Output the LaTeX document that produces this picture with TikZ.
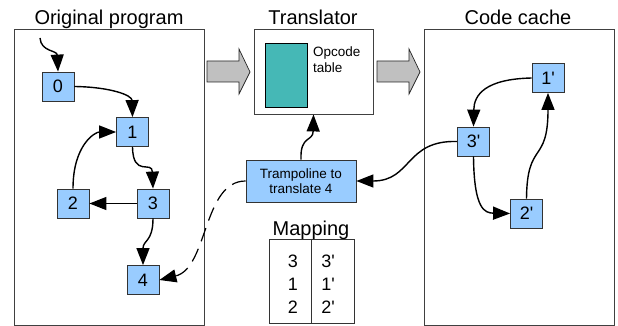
\documentclass[tikz,border=0pt]{standalone}
\usepackage{fontspec}
\setmainfont{Liberation Sans}
\usetikzlibrary{arrows.meta}
\definecolor{nodeblue}{HTML}{99CCFF}
\definecolor{teal2}{HTML}{45B8B6}
\definecolor{grayarrow}{HTML}{C0C0C0}
\definecolor{frame}{HTML}{404040}
\tikzset{
  frm/.style={draw=frame, line width=0.9pt, fill=white, inner sep=0pt},
  blk/.style={draw=black!80, line width=0.8pt, fill=nodeblue, minimum width=32pt, minimum height=29pt, inner sep=0pt, font=\fontsize{18}{20}\selectfont},
  ttl/.style={anchor=base, inner sep=0pt, font=\fontsize{20}{24}\selectfont},
  smalltxt/.style={inner sep=0pt, font=\fontsize{13.5}{15}\selectfont, align=center},
  conn/.style={draw=black, line width=1.4pt, -{Triangle[length=17pt,width=13pt]}},
  bigarrow/.style={draw=black!85, line width=0.7pt, fill=grayarrow},
}
\begin{document}
\begin{tikzpicture}[x=1pt,y=-1pt]
\useasboundingbox (0,0) rectangle (618,326);
% frames
\node[frm, minimum width=190pt, minimum height=296pt] (orig) at (109,177) {};
\node[frm, minimum width=119pt, minimum height=85pt] (trans) at (313.5,71.5) {};
\node[frm, minimum width=190pt, minimum height=296pt] (cache) at (519,177) {};
% titles
\node[ttl] (tOrig) at (109,25) {Original program};
\node[ttl] (tTrans) at (313,25) {Translator};
\node[ttl] (tCache) at (518,25) {Code cache};
\node[ttl] (tMap) at (311,235) {Mapping};
% opcode table
\node[draw=black, line width=0.8pt, fill=teal2, minimum width=42pt, minimum height=64pt, inner sep=0pt] (opc) at (286,75) {};
\node[inner sep=0pt, anchor=north west, align=left, font=\fontsize{13.5}{16}\selectfont] (opct) at (313,47) {Opcode\\table};
% gray arrows
\draw[bigarrow] (207,61) -- (239,61) -- (239,49) -- (250,72) -- (239,94) -- (239,82) -- (207,82) -- cycle;
\draw[bigarrow] (377,61) -- (409,61) -- (409,49) -- (420,72) -- (409,94) -- (409,82) -- (377,82) -- cycle;
% original program nodes
\node[blk] (n0) at (58,86.5) {0};
\node[blk] (n1) at (132.5,132) {1};
\node[blk] (n2) at (73,203.5) {2};
\node[blk] (n3) at (153,203.5) {3};
\node[blk] (n4) at (143,280) {4};
\coordinate (entry) at (40,38);
% code cache nodes
\node[blk] (c1) at (548,78) {1\textquotesingle};
\node[blk] (c3) at (473.5,141.5) {3\textquotesingle};
\node[blk] (c2) at (526.5,213.5) {2\textquotesingle};
% trampoline
\node[draw=black!80, line width=0.8pt, fill=nodeblue, minimum width=110pt, minimum height=42pt, smalltxt] (tramp) at (301,181) {Trampoline to\\translate 4};
% mapping table
\node[draw=black!80, line width=0.8pt, minimum width=85pt, minimum height=84pt, inner sep=0pt] (map) at (311.5,281) {};
\draw[black!80, line width=0.8pt] (map.north) -- (map.south);
\node[inner sep=0pt, anchor=base, font=\fontsize{18}{20}\selectfont] (m1a) at (293,267) {3};
\node[inner sep=0pt, anchor=base, font=\fontsize{18}{20}\selectfont] (m2a) at (293,290) {1};
\node[inner sep=0pt, anchor=base, font=\fontsize{18}{20}\selectfont] (m3a) at (293,313) {2};
\node[inner sep=0pt, anchor=base, font=\fontsize{18}{20}\selectfont] (m1b) at (328,267) {3\textquotesingle};
\node[inner sep=0pt, anchor=base, font=\fontsize{18}{20}\selectfont] (m2b) at (328,290) {1\textquotesingle};
\node[inner sep=0pt, anchor=base, font=\fontsize{18}{20}\selectfont] (m3b) at (328,313) {2\textquotesingle};
% connectors original
\draw[conn] (entry) .. controls (41,52) and (57,50) .. (n0.north);
\draw[conn] (n0.east) .. controls (110,87) and (132,95) .. (n1.north);
\draw[conn] (n1.south) .. controls (133,178) and (152,160) .. (n3.north);
\draw[conn] (n3.west) -- (n2.east);
\draw[conn] (n2.north) .. controls (73,145) and (95,132) .. (n1.west);
\draw[conn] (n3.south) .. controls (153,242) and (143,240) .. (n4.north);
\draw[conn, line width=1.2pt, dash pattern=on 14pt off 8pt] (tramp.west) .. controls (203,181) and (208,268) .. (n4.east);
% trampoline to translator
\draw[conn] (tramp.north) .. controls (300,135) and (313,142) .. (trans.south);
% code cache connectors
\draw[conn] (c3.west) .. controls (405,140) and (412,181) .. (tramp.east);
\draw[conn] (c1.west) .. controls (485,79) and (474,95) .. (c3.north);
\draw[conn] (c3.south) .. controls (474,210) and (485,213) .. (c2.west);
\draw[conn] (c2.north) .. controls (527,140) and (548,165) .. (c1.south);
\end{tikzpicture}
\end{document}
